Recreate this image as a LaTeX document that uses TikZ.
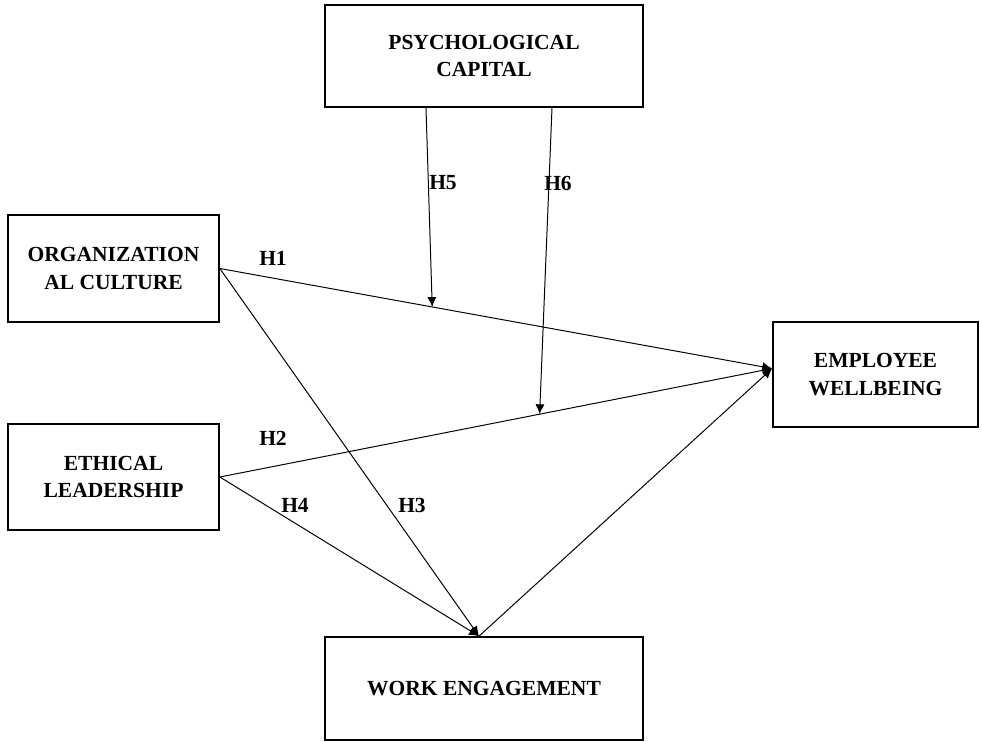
\documentclass[tikz,border=0pt]{standalone}
\usepackage{fontspec}
\setmainfont{Liberation Serif}
\usetikzlibrary{arrows.meta,calc}

\begin{document}
\begin{tikzpicture}[x=0.025cm,y=-0.025cm,
	font=\bfseries\fontsize{15.3}{19.5}\selectfont,
	box/.style={draw,line width=1.2pt,align=center,inner sep=0pt},
	arr/.style={line width=0.7pt,-{Latex[length=7pt,width=6.5pt]}},
	hyp/.style={inner sep=0pt}]
\useasboundingbox (0,0) rectangle (982,742);

% boxes
\node[box,minimum width=7.95cm,minimum height=2.55cm] (pc) at (484,56) {PSYCHOLOGICAL\\CAPITAL};
\node[box,minimum width=5.275cm,minimum height=2.675cm] (oc) at (113.5,268.5) {ORGANIZATION\\AL CULTURE};
\node[box,minimum width=5.275cm,minimum height=2.65cm] (el) at (113.5,477) {ETHICAL\\LEADERSHIP};
\node[box,minimum width=5.125cm,minimum height=2.625cm] (ew) at (875.5,374.5) {EMPLOYEE\\WELLBEING};
\node[box,minimum width=7.95cm,minimum height=2.575cm] (we) at (484,688.5) {WORK ENGAGEMENT};

\coordinate (ewin) at ($(ew.west)+(0,-6)$);
\coordinate (wein) at ($(we.north)+(-5,0)$);
\coordinate (pcl) at ($(pc.south)+(-58,0)$);
\coordinate (pcr) at ($(pc.south)+(68,0)$);

% direct paths
\draw[arr] (oc.east) -- coordinate[pos=0.3845] (m5) (ewin);
\draw[arr] (el.east) -- coordinate[pos=0.579] (m6) (ewin);
\draw[arr] (oc.east) -- (wein);
\draw[arr] (el.east) -- (wein);
\draw[arr] (wein) -- (ewin);

% moderation
\draw[arr] (pcl) -- (m5);
\draw[arr] (pcr) -- (m6);

\node[hyp] (h1) at (273,258) {H1};
\node[hyp] (h2) at (273,438) {H2};
\node[hyp] (h3) at (412,505) {H3};
\node[hyp] (h4) at (295,505) {H4};
\node[hyp] (h5) at (443,183) {H5};
\node[hyp] (h6) at (558,183) {H6};
\end{tikzpicture}
\end{document}
